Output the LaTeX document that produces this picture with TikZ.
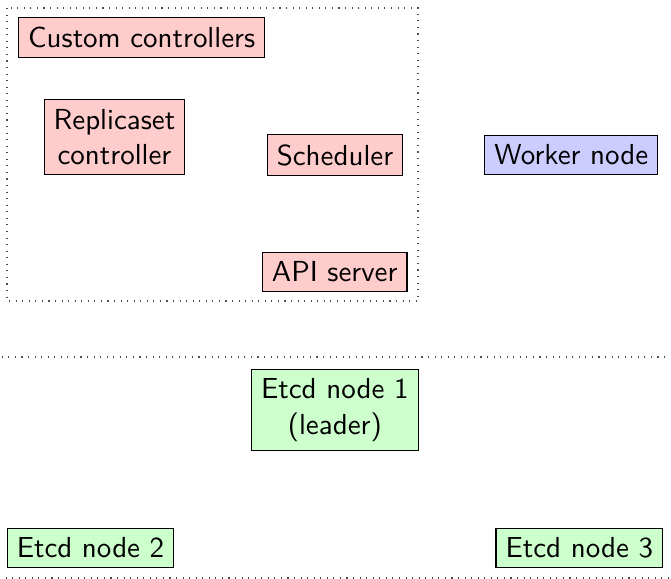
\documentclass[tikz,border=0pt]{standalone}
\begin{document}
\begin{tikzpicture}[x=0.366pt,y=-0.366pt,
  box/.style={draw=black, font=\sffamily\fontsize{10.6}{12.9}\selectfont, inner sep=3.5pt, align=center},
  ctrl/.style={box, fill=red!20},
  work/.style={box, fill=blue!20},
  etcd/.style={box, fill=green!20},
  frame/.style={draw=black!70, dotted}]
\useasboundingbox (0,0) rectangle (671,579);
\draw[frame] (7,8) rectangle (418,301);
\draw[frame] (-3,357) rectangle (674,578);
\node[ctrl] (custom) at (141.7,37.8) {Custom controllers};
\node[ctrl] (rs) at (114.5,137.3) {Replicaset\\controller};
\node[ctrl] (sched) at (335,155) {Scheduler};
\node[ctrl] (api) at (334.7,272) {API server};
\node[work] (worker) at (571.3,155) {Worker node};
\node[etcd] (e1) at (334.8,410) {Etcd node 1\\(leader)};
\node[etcd] (e2) at (90.5,548) {Etcd node 2};
\node[etcd] (e3) at (579.3,548) {Etcd node 3};
\end{tikzpicture}
\end{document}
